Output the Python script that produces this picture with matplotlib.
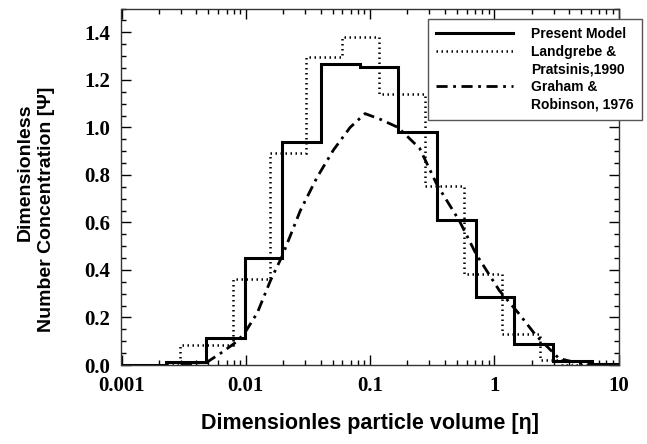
import numpy as np
import matplotlib
matplotlib.use("Agg")
import matplotlib.pyplot as plt
from matplotlib.lines import Line2D
from matplotlib.ticker import MultipleLocator, LogLocator, NullFormatter

# Present Model (step histogram)
model_edges = [0.001, 0.0023, 0.0048, 0.0098, 0.0197, 0.0403, 0.083, 0.168,
               0.344, 0.714, 1.445, 2.96, 6.08, 10]
model_vals = [0.0, 0.014, 0.115, 0.45, 0.94, 1.265, 1.255, 0.98,
              0.61, 0.285, 0.09, 0.017, 0.003]

# Landgrebe & Pratsinis, 1990
lp_edges = [0.001, 0.00296, 0.0079, 0.0158, 0.0306, 0.0594, 0.1187, 0.275,
            0.568, 1.165, 2.33, 3.5, 10]
lp_vals = [0.0, 0.083, 0.362, 0.891, 1.298, 1.38, 1.14, 0.752,
           0.383, 0.132, 0.02, 0.0]

# Graham & Robinson, 1976
gr_x = [0.0030, 0.00494, 0.0063, 0.00805, 0.00968, 0.0124, 0.0158, 0.0197,
        0.0275, 0.0375, 0.0508, 0.0692, 0.0912, 0.120, 0.168, 0.251, 0.345,
        0.525, 0.714, 1.10, 1.58, 2.16, 2.84, 3.31, 4.79, 6.92]
gr_y = [0.0, 0.014, 0.05, 0.09, 0.13, 0.22, 0.355, 0.46,
        0.65, 0.79, 0.905, 1.0, 1.058, 1.035, 1.0, 0.912, 0.76,
        0.606, 0.467, 0.313, 0.216, 0.125, 0.063, 0.028, 0.007, 0.0]

xtick_vals = [0.001, 0.01, 0.1, 1, 10]
xtick_labels = ['0.001', '0.01', '0.1', '1', '10']
ytick_vals = [0.0, 0.2, 0.4, 0.6, 0.8, 1.0, 1.2, 1.4]

W, H = 647, 444
fig = plt.figure(figsize=(W / 100, H / 100), dpi=100)
ax = fig.add_axes([121.5 / W, 1 - 365 / H, (618.5 - 121.5) / W, (365 - 8.6) / H])

dotted = (0, (0.6, 1.4))
dashdot = (0, (4, 2, 1, 2))
ax.stairs(lp_vals, lp_edges, baseline=None, color='black', lw=1.8, linestyle=dotted)
ax.stairs(model_vals, model_edges, baseline=None, color='black', lw=2.2)
ax.plot(gr_x, gr_y, color='black', lw=2.0, linestyle=dashdot)

ax.set_xscale('log')
ax.set_xlim(0.001, 10)
ax.set_ylim(0, 1.5)

ax.yaxis.set_minor_locator(MultipleLocator(0.05))
ax.xaxis.set_minor_locator(LogLocator(base=10, subs=np.arange(2, 10)))
ax.xaxis.set_minor_formatter(NullFormatter())
ax.set_xticks(xtick_vals)
ax.set_xticklabels(xtick_labels)
ax.set_yticks(ytick_vals)
ax.set_yticklabels([f'{v:.1f}' for v in ytick_vals])

ax.tick_params(which='both', direction='in', top=True, right=True, width=1)
ax.tick_params(which='major', length=7)
ax.tick_params(which='minor', length=3.5)
for lab in ax.get_xticklabels() + ax.get_yticklabels():
    lab.set_fontfamily('Liberation Serif')
    lab.set_fontweight('bold')
    lab.set_fontsize(15)
ax.tick_params(axis='x', pad=8)
ax.tick_params(axis='y', pad=8)
for s in ax.spines.values():
    s.set_linewidth(1.0)
    s.set_color('#333333')

ax.set_xlabel('Dimensionles particle volume [η]', fontfamily='Liberation Sans',
              fontweight='bold', fontsize=15.5, labelpad=12)

# y label: two lines placed separately (they are not centred on each other)
ylab = dict(rotation=90, rotation_mode='anchor', ha='center', va='center',
            fontfamily='Liberation Sans', fontweight='bold', fontsize=14)
fig.text(25 / W, 1 - 172 / H, 'Dimensionless', **ylab)
fig.text(46.5 / W, 1 - 209 / H, 'Number Concentration [Ψ]', **ylab)

handles = [Line2D([], [], color='black', lw=2.2),
           Line2D([], [], color='black', lw=1.8, linestyle=dotted),
           Line2D([], [], color='none'),
           Line2D([], [], color='black', lw=2.0, linestyle=dashdot),
           Line2D([], [], color='none')]
labels = ['Present Model', 'Landgrebe &', 'Pratsinis,1990', 'Graham &', 'Robinson, 1976']
leg = ax.legend(handles, labels, loc='upper left',
                bbox_to_anchor=(428 / W, 1 - 19 / H), bbox_transform=fig.transFigure,
                prop={'family': 'Liberation Sans', 'weight': 'bold', 'size': 10},
                handlelength=5.5, handletextpad=1.3, labelspacing=0.25,
                borderpad=0.6, fancybox=False, framealpha=1, borderaxespad=0)
leg.get_frame().set_edgecolor('#555555')
leg.get_frame().set_linewidth(1.0)

fig.savefig('out.png', dpi=100)
